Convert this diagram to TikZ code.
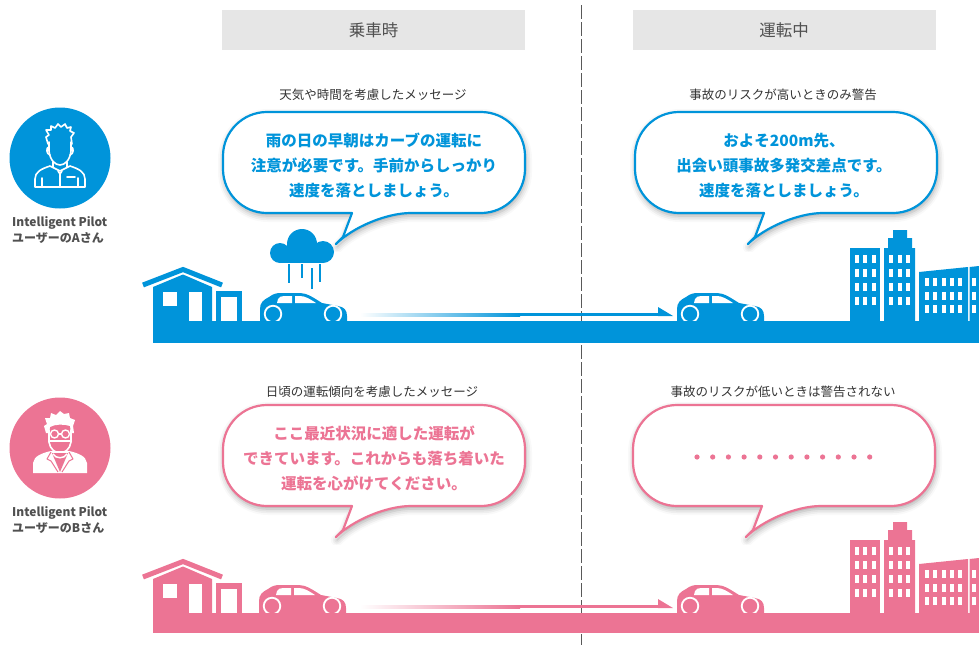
\documentclass[tikz,border=0pt]{standalone}
\usepackage{fontspec}
\setmainfont{Noto Sans CJK JP}
\usetikzlibrary{shadows.blur}

\definecolor{brandblue}{RGB}{0,148,218}
\definecolor{brandpink}{RGB}{236,116,148}
\definecolor{panelgray}{RGB}{230,230,230}
\definecolor{labelgray}{RGB}{80,80,80}
\definecolor{captiongray}{RGB}{50,50,50}

\tikzset{
  hdrbox/.style={fill=panelgray, minimum width=303pt, minimum height=40pt, inner sep=0pt,
    text=labelgray, font=\fontsize{16.5}{16.5}\selectfont},
  caption/.style={text=captiongray, font=\fontsize{12.5}{14}\selectfont, inner sep=0pt},
  msgA/.style={text=brandblue, align=center, font=\fontsize{15.5}{25}\selectfont\bfseries, inner sep=0pt},
  msgB/.style={msgA, text=brandpink},
  userlabel/.style={anchor=west, text=labelgray, font=\fontsize{12}{13}\selectfont\bfseries, inner sep=0pt},
  balA/.style={draw=brandblue, fill=white, line width=2.2pt, line join=round,
    blur shadow={shadow xshift=1pt, shadow yshift=-3pt, shadow blur radius=6pt, shadow opacity=35}},
  balB/.style={balA, draw=brandpink},
  divider/.style={draw=black!65, line width=0.8pt, dash pattern=on 14pt off 3pt},
  iconline/.style={draw=white, line width=1.6pt, line join=round, line cap=round},
  % speech balloon: rounded body with a tail at the lower left
  pics/balloon/.style={code={
    \draw[#1] (129,101) [rounded corners=44pt] -- (0,101) -- (0,0) -- (302,0) -- (302,101)
      -- (144,101) [sharp corners] -- (120,125) -- cycle;
  }},
  % small hatchback, origin at the rear on the road surface
  pics/car/.style={code={
    \fill[#1] (0,-1) -- (0,-13) .. controls (0,-19) and (3,-22) .. (9,-25)
      .. controls (13,-28) and (16,-29) .. (21,-29) -- (40,-29)
      .. controls (47,-29) and (54,-24) .. (62,-19) -- (78,-16)
      .. controls (84,-15) and (87,-12) .. (87,-6) -- (87,-1) -- cycle;
    \fill[white] (17,-19) -- (18,-23) .. controls (19,-25) and (21,-26) .. (24,-26)
      -- (32,-26) -- (32,-19) -- cycle;
    \fill[white] (35,-19) -- (35,-26) -- (40,-26) .. controls (45,-26) and (50,-23) .. (56,-19) -- cycle;
    \fill[white] (13,-8) circle (9.2) (73,-8) circle (9.2);
    \fill[#1] (13,-8) circle (7.2) (73,-8) circle (7.2);
  }},
  % house with a garage
  pics/house/.style={code={
    \fill[#1] (0,0) -- (0,-35) -- (30,-47.5) -- (59,-35) -- (59,0) -- cycle;
    \draw[#1, line width=5pt, line join=miter] (-10,-37) -- (30,-52.5) -- (69,-37);
    \fill[white] (10,-30) rectangle (24,-16);
    \fill[white] (36,0) rectangle (49,-30);
    \fill[#1] (63,0) rectangle (89,-31);
    \fill[white] (68,0) rectangle (84,-25);
  }},
  % three office blocks
  pics/city/.style={code={
    \fill[#1] (0,0) rectangle (30,-74);
    \fill[#1] (34,0) -- (34,-74) -- (38,-74) -- (38,-84) -- (43,-84) -- (43,-92) -- (57,-92)
      -- (57,-84) -- (62,-84) -- (62,-74) -- (65,-74) -- (65,0) -- cycle;
    \fill[#1] (69,0) -- (69,-50) -- (118,-55) -- (118,0) -- cycle;
    \fill[#1] (119.5,0) -- (119.5,-55) -- (129,-56) -- (129,0) -- cycle;
    \foreach \wx in {5,13,22,39,48,56}
      \foreach \wy in {-67,-53,-39,-25}
        \fill[white] (\wx,\wy) rectangle ++(4,8);
    \foreach \wx in {75,83,92,100,108,122}
      \foreach \wy in {-44,-30,-17}
        \fill[white] (\wx,\wy) rectangle ++(4,8);
  }},
}

\begin{document}
\begin{tikzpicture}[x=1pt, y=-1pt]
\useasboundingbox (0,0) rectangle (979,645);

% phase headers and the divider between them
\draw[divider] (581,5) -- (581,645);
\node[hdrbox] (hdrBoard) at (373.5,30) {乗車時};
\node[hdrbox] (hdrDrive) at (784,30) {運転中};

% users
\fill[brandblue] (60,158) circle (50.5);
\begin{scope}[iconline]
  \draw (48,144) -- (46,137) -- (49,135) -- (46,130) -- (51,130) -- (51,126) -- (55,128) -- (58,124)
    -- (61,127) -- (65,124) -- (67,128) -- (71,127) -- (70,131) -- (74,133) -- (71,137) -- (72,144);
  \draw (49,142) -- (49,151) .. controls (50,160) and (55,165) .. (60,165)
    .. controls (65,165) and (70,160) .. (71,151) -- (71,142);
  \draw (49,147) .. controls (46,147) and (46,154) .. (50,155);
  \draw (71,147) .. controls (74,147) and (74,154) .. (70,155);
  \draw (53,162) -- (53,167);
  \draw (67,162) -- (67,167);
  \draw (35,187) -- (35,179) .. controls (35,172) and (41,169) .. (50,166) -- (60,171) -- (70,166)
    .. controls (79,169) and (85,172) .. (85,179) -- (85,187) -- cycle;
  \draw (42,178) -- (42,187);
  \draw (78,178) -- (78,187);
  \draw (58,171) -- (60,174) -- (62,171);
  \draw (60,174) -- (60,186);
  \draw (67,177) -- (75,177);
\end{scope}
\node[userlabel] (userA1) at (12,223) {Intelligent Pilot};
\node[userlabel] (userA2) at (12,238) {ユーザーのAさん};

\fill[brandpink] (60,448) circle (50.5);
\fill[white] (46,433) -- (44,426) -- (47,424) -- (45,418) -- (50,418) -- (51,413) -- (56,415) -- (60,411)
  -- (64,414) -- (69,413) -- (70,418) -- (75,420) -- (73,426) -- (74,433)
  -- (71,433) -- (70,426) .. controls (64,424) and (55,424) .. (50,427) -- (49,433) -- cycle;
\begin{scope}[iconline]
  \draw (49,430) -- (49,442) .. controls (50,449) and (55,453) .. (60,453)
    .. controls (65,453) and (70,449) .. (71,442) -- (71,430);
  \draw[line width=1.4pt] (54.5,434) circle (4) (65.5,434) circle (4);
  \draw[line width=1.4pt] (58.5,434) -- (61.5,434);
  \draw[line width=1.2pt] (49,441) -- (71,441);
\end{scope}
\fill[white] (33,473) -- (33,463) .. controls (34,456) and (42,453) .. (51,451) -- (69,451)
  .. controls (78,453) and (86,456) .. (87,463) -- (87,473) -- cycle;
\fill[brandpink] (52,453) -- (60,472) -- (68,453) -- cycle;
\draw[white, line width=1.5pt] (53,454) .. controls (56,459) and (64,459) .. (67,454);
\draw[brandpink, line width=1pt, line join=round] (51,452) -- (47,459) -- (51,461) -- (58,472);
\draw[brandpink, line width=1pt, line join=round] (69,452) -- (73,459) -- (69,461) -- (62,472);
\node[userlabel] (userB1) at (12,513) {Intelligent Pilot};
\node[userlabel] (userB2) at (12,528) {ユーザーのBさん};

% messages
\node[caption] (capA1) at (373,95) {天気や時間を考慮したメッセージ};
\pic (balA1) at (223,112) {balloon=balA};
\node[msgA] (msgA1) at (374,165) {雨の日の早朝はカーブの運転に\\注意が必要です。手前からしっかり\\速度を落としましょう。};

\node[caption] (capA2) at (783,95) {事故のリスクが高いときのみ警告};
\pic (balA2) at (635,112) {balloon=balA};
\node[msgA] (msgA2) at (784,166) {およそ200m先、\\出会い頭事故多発交差点です。\\速度を落としましょう。};

\node[caption] (capB1) at (372,392) {日頃の運転傾向を考慮したメッセージ};
\pic (balB1) at (223,405) {balloon=balB};
\node[msgB] (msgB1) at (374,458) {ここ最近状況に適した運転が\\できています。これからも落ち着いた\\運転を心がけてください。};

\node[caption] (capB2) at (783,392) {事故のリスクが低いときは警告されない};
\pic (balB2) at (633,405) {balloon=balB};
\foreach \k in {0,...,11}
  \fill[brandpink] (697+\k*15.7,457) circle (2.6);

% upper street: rain on the way out, city ahead
\fill[brandblue] (302,244) circle (15) (280,253) circle (10) (323,252) circle (11);
\fill[brandblue] (280,249) rectangle (323,263);
\draw[brandblue, line width=2pt] (289,264) -- (289,283) (302,264) -- (302,278)
  (312,268) -- (312,289) (320,264) -- (320,282);
\pic (houseA) at (153,322) {house=brandblue};
\pic (carA1) at (260,322) {car=brandblue};
\pic (carA2) at (677,322) {car=brandblue};
\pic (cityA) at (850,322) {city=brandblue};
\coordinate (trailA) at (360,314.5);
\coordinate (headA) at (673,314.5);
\shade[left color=white, right color=brandblue] (trailA) ++(0,-1.5) rectangle (520,316);
\fill[brandblue] (520,313) rectangle ([xshift=-14pt]headA |- 0,316);
\fill[brandblue] ([xshift=-15pt, yshift=7.5pt]headA) -- ([yshift=-1.5pt]headA) -- ([xshift=-15pt, yshift=-1.5pt]headA) -- cycle;
\fill[brandblue] (153,321) rectangle (979,343);

% lower street
\pic (houseB) at (153,614) {house=brandpink};
\pic (carB1) at (259,614) {car=brandpink};
\pic (carB2) at (677,614) {car=brandpink};
\pic (cityB) at (850,614) {city=brandpink};
\coordinate (trailB) at (360,606.5);
\coordinate (headB) at (673,606.5);
\shade[left color=white, right color=brandpink] (trailB) ++(0,-1.5) rectangle (520,608);
\fill[brandpink] (520,605) rectangle ([xshift=-14pt]headB |- 0,608);
\fill[brandpink] ([xshift=-15pt, yshift=7.5pt]headB) -- ([yshift=-1.5pt]headB) -- ([xshift=-15pt, yshift=-1.5pt]headB) -- cycle;
\fill[brandpink] (153,613) rectangle (979,633);
\end{tikzpicture}
\end{document}
